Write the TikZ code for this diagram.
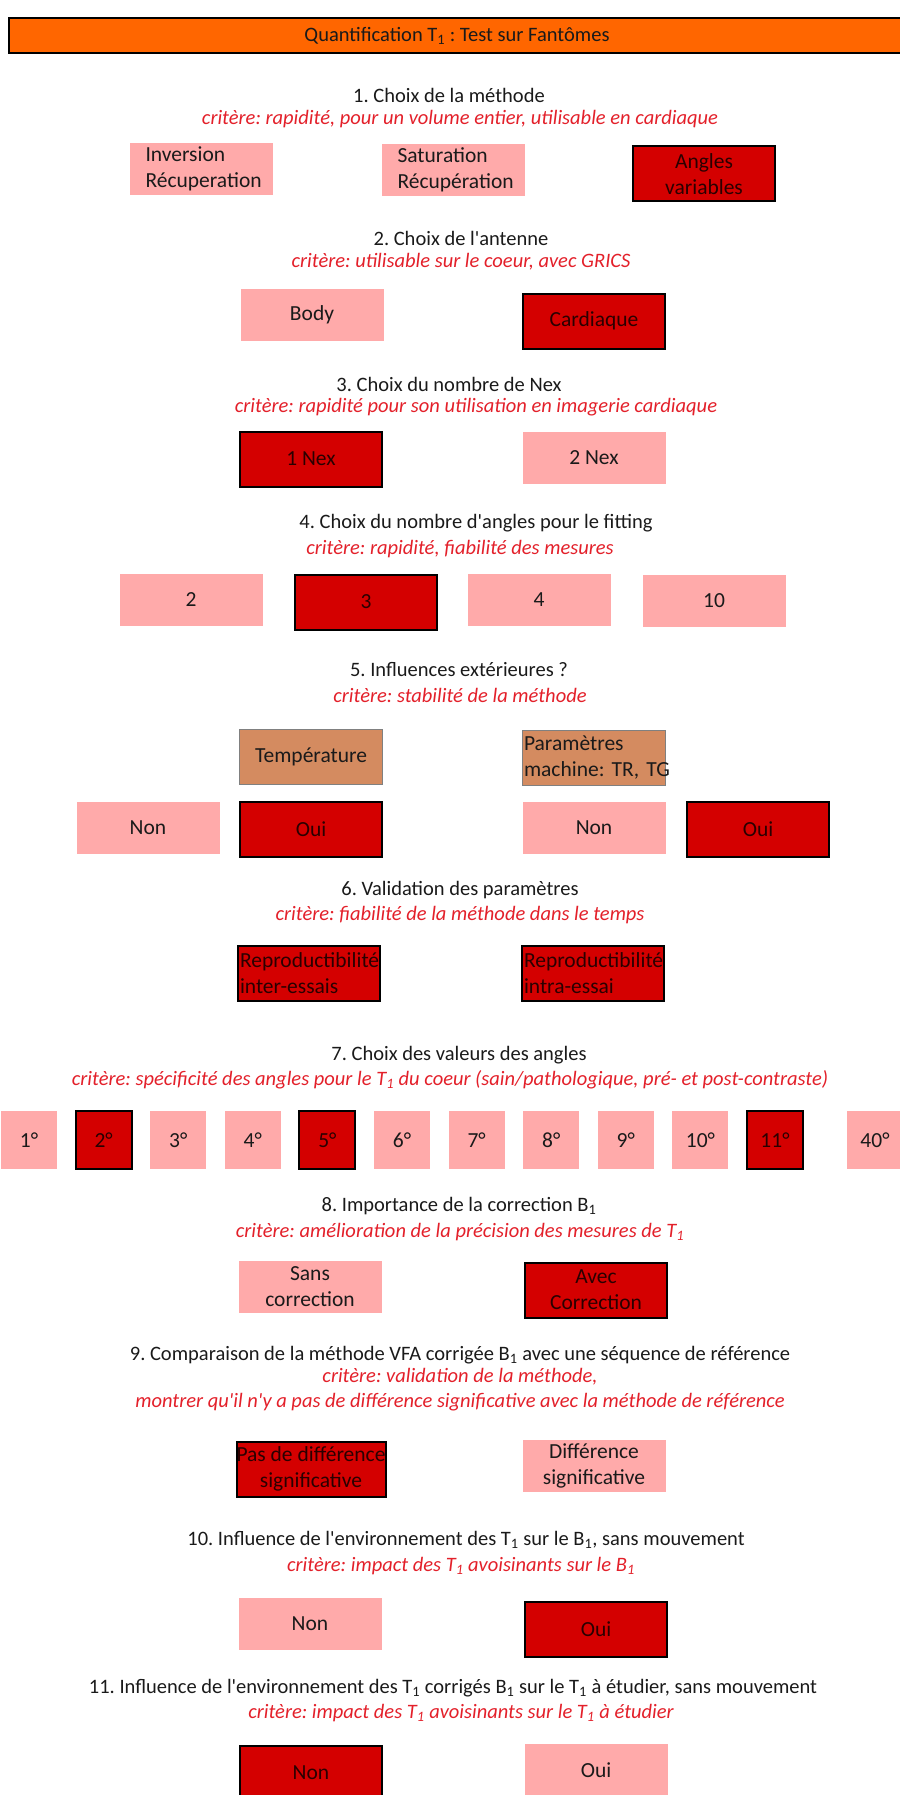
\documentclass[tikz,border=0pt]{standalone}
\usepackage{fontspec}
\setmainfont{Carlito}[Ligatures=TeXOff]
\usepackage{tikz}
\usetikzlibrary{positioning}
\definecolor{TitleOrange}{HTML}{FF6600}
\definecolor{SoftPink}{HTML}{FFAAAA}
\definecolor{DeepRed}{HTML}{D40000}
\definecolor{SoftTan}{HTML}{D48B60}
\definecolor{CritRed}{HTML}{E3202A}
\definecolor{InkGray}{HTML}{1A1A1A}
\frenchspacing

\begin{document}
\begin{tikzpicture}[
  x=1pt, y=-1pt,
  heading/.style={font=\fontsize{20.5}{24}\selectfont, text=InkGray, inner sep=0pt},
  crit/.style={font=\fontsize{20.5}{25}\selectfont\itshape, text=CritRed, inner sep=0pt, align=center},
  choice/.style={minimum width=143pt, minimum height=52pt, inner sep=0pt, align=center,
    font=\fontsize{21.5}{26}\selectfont, text=InkGray},
  pinkbox/.style={choice, fill=SoftPink},
  redbox/.style={choice, fill=DeepRed, draw=black, line width=2pt, minimum width=142pt,
    minimum height=55pt, text=black!80!DeepRed},
  tanbox/.style={choice, fill=SoftTan, draw=gray, line width=1.2pt, minimum height=55pt},
  anglebox/.style={minimum width=56pt, minimum height=58pt}
]
\useasboundingbox (0,0) rectangle (899,1795);

\node[heading, draw=black, line width=2pt, fill=TitleOrange, minimum width=896pt,
  minimum height=35pt] (bar) at (457,35.5) {Quantification T\textsubscript{1} : Test sur Fantômes};

% 1. methode
\node[heading] (h1) at (449,95) {1. Choix de la méthode};
\node[crit] (c1) at (460,119) {critère: rapidité, pour un volume entier, utilisable en cardiaque};
\node[pinkbox, text width=111pt, align=left] (ir) at (201,169) {Inversion\\Récuperation};
\node[pinkbox, text width=111pt, align=left] (sr) at (453,170) {Saturation\\Récupération};
\node[redbox] (av) at (704,174) {Angles\\variables};

% 2. antenne
\node[heading] (h2) at (461,238) {2. Choix de l'antenne};
\node[crit] (c2) at (461,262) {critère: utilisable sur le coeur, avec GRICS};
\node[pinkbox] (body) at (312,315) {Body};
\node[redbox] (cardio) at (594,321) {Cardiaque};

% 3. Nex
\node[heading] (h3) at (449,384) {3. Choix du nombre de Nex};
\node[crit] (c3) at (476,407) {critère: rapidité pour son utilisation en imagerie cardiaque};
\node[redbox] (nex1) at (311,459) {1 Nex};
\node[pinkbox] (nex2) at (594,458) {2 Nex};

% 4. angles pour le fitting
\node[heading] (h4) at (476,523) {4. Choix du nombre d'angles pour le fitting};
\node[crit] (c4) at (460,549) {critère: rapidité, fiabilité des mesures};
\node[pinkbox] (fit2) at (191,600) {2};
\node[redbox] (fit3) at (366,602) {3};
\node[pinkbox] (fit4) at (539,600) {4};
\node[pinkbox] (fit10) at (714,601) {10};

% 5. influences
\node[heading] (h5) at (459,670) {5. Influences extérieures ?};
\node[crit] (c5) at (460,695) {critère: stabilité de la méthode};
\node[tanbox] (temp) at (311,757) {Température};
\node[tanbox, text width=140pt, align=left] (param) at (594,758) {Paramètres\\machine:~TR,~TG};
\node[pinkbox] (tnon) at (148,828) {Non};
\node[redbox] (toui) at (311,829) {Oui};
\node[pinkbox] (pnon) at (594,828) {Non};
\node[redbox] (poui) at (758,829) {Oui};

% 6. validation
\node[heading] (h6) at (460,890) {6. Validation des paramètres};
\node[crit] (c6) at (460,915) {critère: fiabilité de la méthode dans le temps};
\node[redbox, text width=138pt, align=left] (inter) at (309,973) {Reproductibilité\\inter-essais};
\node[redbox, text width=138pt, align=left] (intra) at (593,973) {Reproductibilité\\intra-essai};

% 7. valeurs des angles
\node[heading] (h7) at (459,1055) {7. Choix des valeurs des angles};
\node[crit] (c7) at (450,1080) {critère: spécificité des angles pour le T\textsubscript{1} du coeur (sain/pathologique, pré- et post-contraste)};
\foreach \a/\s [count=\i from 0] in {1/pinkbox,2/redbox,3/pinkbox,4/pinkbox,5/redbox,6/pinkbox,
    7/pinkbox,8/pinkbox,9/pinkbox,10/pinkbox,11/redbox}
  \node[\s, anglebox] (ang\a) at (29+74.6*\i,1140) {\a°};
\node[pinkbox, anglebox] (ang40) at (875,1140) {40°};

% 8. correction B1
\node[heading] (h8) at (459,1206) {8. Importance de la correction B\textsubscript{1}};
\node[crit] (c8) at (460,1232) {critère: amélioration de la précision des mesures de T\textsubscript{1}};
\node[pinkbox] (sans) at (310,1287) {Sans\\correction};
\node[redbox] (avec) at (596,1290) {Avec\\Correction};

% 9. comparaison
\node[heading] (h9) at (460,1355) {9. Comparaison de la méthode VFA corrigée B\textsubscript{1} avec une séquence de référence};
\node[crit] (c9) at (460,1390) {critère: validation de la méthode,\\montrer qu'il n'y a pas de différence significative avec la méthode de référence};
\node[redbox] (pasdiff) at (311,1469) {Pas de différence\\significative};
\node[pinkbox] (diff) at (594,1466) {Différence\\significative};

% 10. environnement sur B1
\node[heading] (h10) at (466,1540) {10. Influence de l'environnement des T\textsubscript{1} sur le B\textsubscript{1}, sans mouvement};
\node[crit] (c10) at (461,1566) {critère: impact des T\textsubscript{1} avoisinants sur le B\textsubscript{1}};
\node[pinkbox] (bnon) at (310,1624) {Non};
\node[redbox] (boui) at (596,1629) {Oui};

% 11. environnement sur T1
\node[heading] (h11) at (453,1688) {11. Influence de l'environnement des T\textsubscript{1} corrigés B\textsubscript{1} sur le T\textsubscript{1} à étudier, sans mouvement};
\node[crit] (c11) at (461,1713) {critère: impact des T\textsubscript{1} avoisinants sur le T\textsubscript{1} à étudier};
\node[redbox] (tnon11) at (311,1773) {Non};
\node[pinkbox] (toui11) at (596,1770) {Oui};
\end{tikzpicture}
\end{document}
